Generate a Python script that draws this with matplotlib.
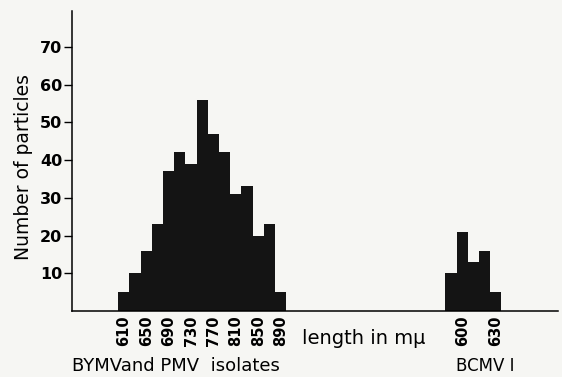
import matplotlib
matplotlib.use("Agg")
from matplotlib import pyplot as plt

# BYMV and PMV isolates, bins of 20 m-mu
bymvLengths = [610, 630, 650, 670, 690, 710, 730, 750, 770, 790, 810, 830, 850, 870, 890]
bymvCounts = [5, 10, 16, 23, 37, 42, 39, 56, 47, 42, 31, 33, 20, 23, 5]
bymvTicks = [610, 650, 690, 730, 770, 810, 850, 890]

# BCMV I, bins of 10 m-mu
bcmvLengths = [590, 600, 610, 620, 630]
bcmvCounts = [10, 21, 13, 16, 5]
bcmvTicks = [600, 630]

yTicks = [10, 20, 30, 40, 50, 60, 70]

# each group gets its own scale on a shared slot axis (one slot = one bin)
bcmvOffset = 29.2
def bymvSlot(v):
    return (v - bymvLengths[0]) / 20.0
def bcmvSlot(v):
    return bcmvOffset + (v - bcmvLengths[0]) / 10.0

fig = plt.figure(figsize=(5.62, 3.77), dpi=100)
fig.set_facecolor("#f6f6f3")
ax = fig.add_axes([0.128, 0.175, 0.865, 0.796])
ax.set_facecolor("#f6f6f3")

ax.bar([bymvSlot(v) for v in bymvLengths], bymvCounts, width=1.0, color="#141414", linewidth=0)
ax.bar([bcmvSlot(v) for v in bcmvLengths], bcmvCounts, width=1.0, color="#141414", linewidth=0)

ax.set_xlim(-4.63, 38.76)
ax.set_ylim(0, 79.5)
for side in ["top", "right"]:
    ax.spines[side].set_visible(False)
ax.spines["left"].set_linewidth(1.1)
ax.spines["bottom"].set_linewidth(1.1)

ax.set_yticks(yTicks)
ax.set_yticklabels([str(t) for t in yTicks], fontsize=11.5, fontweight="bold")
ax.tick_params(axis="y", length=6, width=1, pad=1)

xt = [bymvSlot(v) for v in bymvTicks] + [bcmvSlot(v) for v in bcmvTicks]
ax.set_xticks(xt)
ax.set_xticklabels([str(t) for t in bymvTicks + bcmvTicks], rotation=90, fontsize=10.5, fontweight="bold")
ax.tick_params(axis="x", length=0, pad=3)

ax.set_ylabel("Number of particles", fontsize=13.5)
ax.yaxis.set_label_coords(-0.08, 0.48)

fig.text(0.537, 0.0875, "length in m\u03bc", fontsize=14, ha="left", va="baseline")
fig.text(0.128, 0.015, "BYMVand PMV  isolates", fontsize=13, ha="left", va="baseline")
fig.text(0.811, 0.015, "BCMV I", fontsize=12, ha="left", va="baseline")

fig.savefig("out.png", dpi=100)
